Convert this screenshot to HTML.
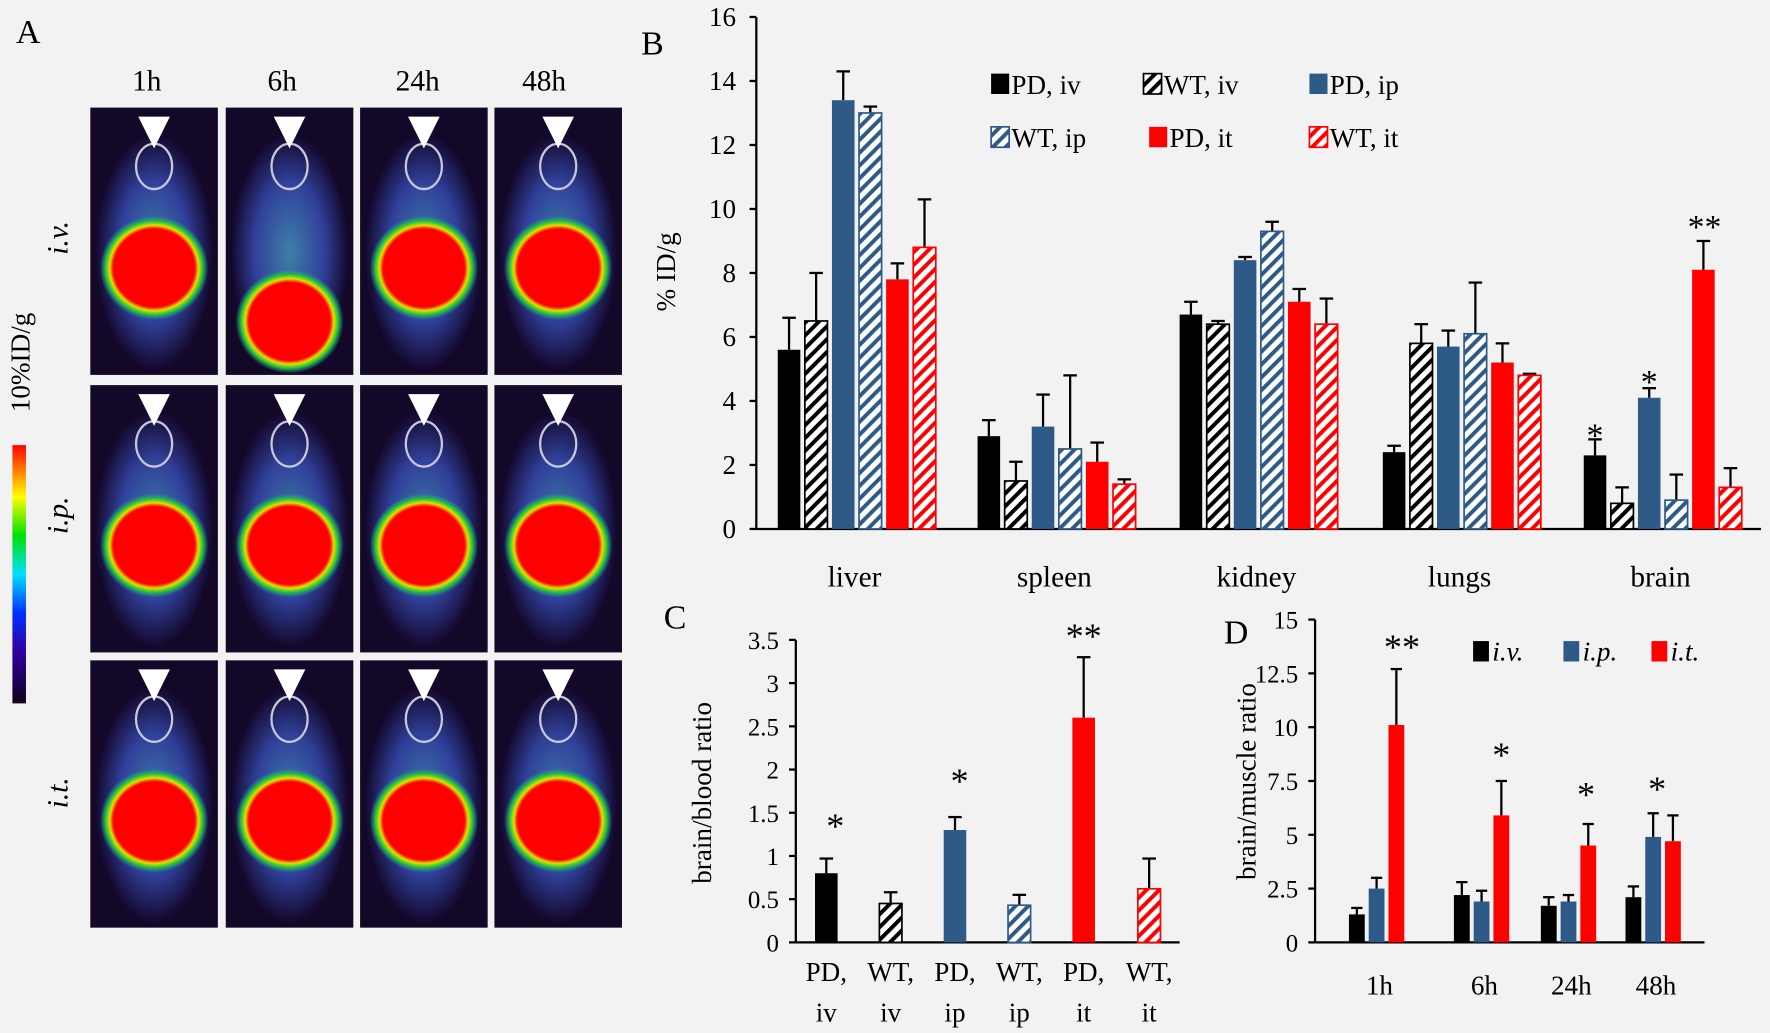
<!DOCTYPE html>
<html><head><meta charset="utf-8"><style>
html,body{margin:0;padding:0;background:#f2f2f2;}
svg{display:block;font-family:"Liberation Serif",serif;}
</style></head><body>
<svg id="s" width="1770" height="1033" viewBox="0 0 1568 912" preserveAspectRatio="none" xmlns="http://www.w3.org/2000/svg">
<defs>
<pattern id="hk" width="8" height="8" patternUnits="userSpaceOnUse" patternTransform="rotate(45)"><rect width="8" height="8" fill="#fff"/><rect width="3.5" height="8" fill="#000"/></pattern>
<pattern id="hb" width="8" height="8" patternUnits="userSpaceOnUse" patternTransform="rotate(45)"><rect width="8" height="8" fill="#fff"/><rect width="3.5" height="8" fill="#2e5a88"/></pattern>
<pattern id="hr" width="8" height="8" patternUnits="userSpaceOnUse" patternTransform="rotate(45)"><rect width="8" height="8" fill="#fff"/><rect width="3.5" height="8" fill="#f00"/></pattern>
<linearGradient id="cb" x1="0" y1="1" x2="0" y2="0"><stop offset="0" stop-color="#10001a"/><stop offset="0.2" stop-color="#3000a0"/><stop offset="0.35" stop-color="#0030ff"/><stop offset="0.5" stop-color="#00e0ff"/><stop offset="0.65" stop-color="#00e000"/><stop offset="0.8" stop-color="#ffff00"/><stop offset="1" stop-color="#ff0000"/></linearGradient>
<radialGradient id="body"><stop offset="0" stop-color="#3f7fa8"/><stop offset="0.6" stop-color="#30409a"/><stop offset="1" stop-color="#14082c"/></radialGradient>
<radialGradient id="blob"><stop offset="0" stop-color="#ff0000"/><stop offset="0.75" stop-color="#ff0000"/><stop offset="0.82" stop-color="#e0e000"/><stop offset="0.9" stop-color="#20c040"/><stop offset="1" stop-color="#20a0a0" stop-opacity="0"/></radialGradient>
</defs>
<g id="g"></g>
</svg>
<script>
var S='';
function t(x,y,s,o){o=o||{};S+='<text x="'+x+'" y="'+y+'" font-size="'+(o.fs||24)+'" text-anchor="'+(o.a||'middle')+'"'+(o.it?' font-style="italic"':'')+(o.tr?' transform="'+o.tr+'"':'')+'>'+s+'</text>';}
function r(x,y,w,h,f,st){S+='<rect x="'+x+'" y="'+y+'" width="'+w+'" height="'+h+'" fill="'+f+'"'+(st?' stroke="'+st+'" stroke-width="1.5"':'')+'/>';}
function l(x1,y1,x2,y2,w){S+='<line x1="'+x1+'" y1="'+y1+'" x2="'+x2+'" y2="'+y2+'" stroke="#000" stroke-width="'+(w||2)+'"/>';}
// Panel A
t(25,38,'A',{fs:30});
[['1h',130],['6h',250],['24h',370],['48h',482]].forEach(function(c){t(c[1],80,c[0],{fs:26});});
var cx=[80,200,319,438],ry=[95,340,583];
ry.forEach(function(y,ri){cx.forEach(function(x,ci){
 var w=113,h=236;r(x,y,w,h,'#140828');
 var mx=x+w/2;
 S+='<ellipse cx="'+mx+'" cy="'+(y+h*0.54)+'" rx="52" ry="'+(h*0.44)+'" fill="url(#body)"/>';
 S+='<ellipse cx="'+mx+'" cy="'+(y+h*0.22)+'" rx="16" ry="20" fill="none" stroke="#c8c8d8" stroke-width="2"/>';
 var by=(ri==0&&ci==1)?y+h*0.8:y+h*0.6;
 S+='<ellipse cx="'+mx+'" cy="'+by+'" rx="48" ry="46" fill="url(#blob)"/>';
 S+='<polygon points="'+(mx-14)+','+(y+8)+' '+(mx+14)+','+(y+8)+' '+mx+','+(y+36)+'" fill="#fff"/>';
});});
t(60,210,'i.v.',{fs:26,it:1,tr:'rotate(-90 60 210)'});
t(60,455,'i.p.',{fs:26,it:1,tr:'rotate(-90 60 455)'});
t(60,700,'i.t.',{fs:26,it:1,tr:'rotate(-90 60 700)'});
r(11,393,12,228,'url(#cb)');
t(26,320,'10%ID/g',{fs:24,tr:'rotate(-90 26 320)'});
// Panel B
t(578,48,'B',{fs:30});
var y0=467,k=28.25;
l(670,15,670,y0);l(670,y0,1560,y0);
for(var v=0;v<=16;v+=2){var yy=y0-v*k;l(664,yy,670,yy);t(652,yy+8,v,{a:'end'});}
t(598,240,'% ID/g',{tr:'rotate(-90 598 240)'});
var fills=['#000','url(#hk)','#2e5a88','url(#hb)','#f00','url(#hr)'];
var strokes=[0,'#000',0,'#2e5a88',0,'#f00'];
var B=[[[5.6,6.6],[6.5,8],[13.4,14.3],[13,13.2],[7.8,8.3],[8.8,10.3]],
[[2.9,3.4],[1.5,2.1],[3.2,4.2],[2.5,4.8],[2.1,2.7],[1.4,1.55]],
[[6.7,7.1],[6.4,6.5],[8.4,8.5],[9.3,9.6],[7.1,7.5],[6.4,7.2]],
[[2.4,2.6],[5.8,6.4],[5.7,6.2],[6.1,7.7],[5.2,5.8],[4.8,4.85]],
[[2.3,2.8],[0.8,1.3],[4.1,4.4],[0.9,1.7],[8.1,9],[1.3,1.9]]];
var gs=[689,866,1045,1225,1403],names=['liver','spleen','kidney','lungs','brain'];
B.forEach(function(g,gi){g.forEach(function(b,bi){var x=gs[gi]+bi*24,top=y0-b[0]*k;
 l(x+10,y0-b[1]*k,x+10,top,2);l(x+4,y0-b[1]*k,x+16,y0-b[1]*k,2);
 r(x,top,20,b[0]*k,fills[bi],strokes[bi]);});
 t(gs[gi]+68,518,names[gi],{fs:26});});
t(1413,394,'*',{fs:30});t(1461,347,'*',{fs:30});t(1510,210,'**',{fs:30});
var lg=[[878,75,'PD, iv'],[1013,75,'WT, iv'],[1160,75,'PD, ip'],[878,122,'WT, ip'],[1018,122,'PD, it'],[1160,122,'WT, it']];
lg.forEach(function(q,i){r(q[0],q[1]-10,16,18,fills[i],strokes[i]);t(q[0]+18,q[1]+8,q[2],{a:'start'});});
// Panel C
t(598,555,'C',{fs:30});
var c0=832,ck=76.3;l(705,565,705,c0);l(705,c0,1045,c0);
[0,0.5,1,1.5,2,2.5,3,3.5].forEach(function(v){var yy=c0-v*ck;l(699,yy,705,yy);t(690,yy+8,v,{a:'end',fs:22});});
t(630,700,'brain/blood ratio',{tr:'rotate(-90 630 700)'});
var C=[[722,0.8,0.97],[779,0.45,0.58],[836,1.3,1.45],[893,0.43,0.55],[950,2.6,3.3],[1008,0.62,0.97]];
var cl=[['PD,','iv'],['WT,','iv'],['PD,','ip'],['WT,','ip'],['PD,','it'],['WT,','it']];
C.forEach(function(b,i){var top=c0-b[1]*ck,et=c0-b[2]*ck;l(b[0]+10,et,b[0]+10,top);l(b[0]+4,et,b[0]+16,et);
 r(b[0],top,20,b[1]*ck,fills[i],strokes[i]);t(b[0]+10,866,cl[i][0]);t(b[0]+10,902,cl[i][1]);});
t(740,740,'*',{fs:32});t(850,700,'*',{fs:32});t(960,572,'**',{fs:32});
// Panel D
t(1095,568,'D',{fs:30});
var d0=832,dk=19;l(1165,547,1165,d0);l(1165,d0,1510,d0);
[0,2.5,5,7.5,10,12.5,15].forEach(function(v){var yy=d0-v*dk;l(1159,yy,1165,yy);t(1150,yy+8,v,{a:'end',fs:22});});
t(1112,690,'brain/muscle ratio',{tr:'rotate(-90 1112 690)'});
var D=[[1195,[[1.3,1.6],[2.5,3],[10.1,12.7]]],[1288,[[2.2,2.8],[1.9,2.4],[5.9,7.5]]],[1365,[[1.7,2.1],[1.9,2.2],[4.5,5.5]]],[1440,[[2.1,2.6],[4.9,6],[4.7,5.9]]]];
var dc=['#000','#2e5a88','#f00'],dl=['1h','6h','24h','48h'];
D.forEach(function(g,gi){g[1].forEach(function(b,bi){var x=g[0]+bi*17.5,top=d0-b[0]*dk,et=d0-b[1]*dk;
 l(x+7,et,x+7,top);l(x+2,et,x+12,et);r(x,top,14,b[0]*dk,dc[bi]);});
 t(g[0]+27,878,dl[gi]);});
t(1242,582,'**',{fs:32});t(1330,677,'*',{fs:32});t(1405,712,'*',{fs:32});t(1468,707,'*',{fs:32});
[[1305,'i.v.'],[1385,'i.p.'],[1463,'i.t.']].forEach(function(q,i){r(q[0],566,14,18,dc[i]);t(q[0]+17,583,q[1],{a:'start',it:1});});
document.getElementById('g').innerHTML=S;
</script>
</body></html>
